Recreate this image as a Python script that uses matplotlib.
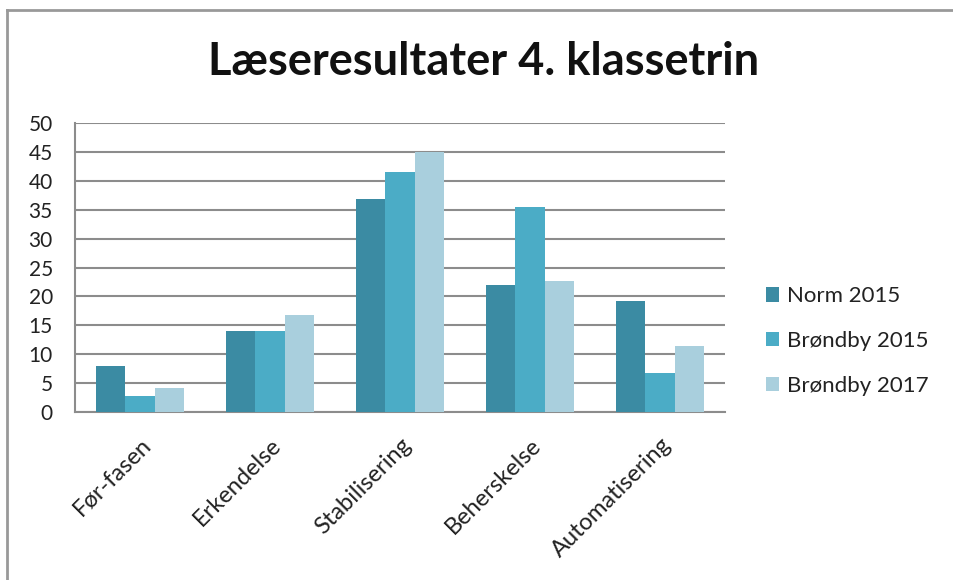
import matplotlib
matplotlib.use("Agg")
import matplotlib.pyplot as plt
import numpy as np
from matplotlib.lines import Line2D

categories = ["Før-fasen", "Erkendelse", "Stabilisering", "Beherskelse", "Automatisering"]
series_names = ["Norm 2015", "Brøndby 2015", "Brøndby 2017"]
norm_2015 = [8.0, 14.0, 36.9, 22.0, 19.2]
brondby_2015 = [2.8, 14.0, 41.5, 35.5, 6.7]
brondby_2017 = [4.2, 16.8, 45.0, 22.7, 11.5]
colors = ["#3B8BA3", "#4BACC6", "#A9CFDD"]
yticks = [0, 5, 10, 15, 20, 25, 30, 35, 40, 45, 50]

plt.rcParams['font.family'] = ['Lato', 'DejaVu Sans']

fig = plt.figure(figsize=(9.54, 5.8), dpi=100)
ax = fig.add_axes([75/954, 1-412/580, 650/954, 289/580])

x = np.arange(len(categories))
w = 0.226
for i, (vals, name) in enumerate(zip([norm_2015, brondby_2015, brondby_2017], series_names)):
    ax.bar(x + (i - 1) * w, vals, width=w, color=colors[i], label=name, zorder=3)

ax.set_xlim(-0.5, len(categories) - 0.5)
ax.set_ylim(0, 50)
ax.set_yticks(yticks)
ax.yaxis.grid(True, color="#8C8C8C", linewidth=1.5, zorder=0)
ax.set_axisbelow(True)
for s in ["top", "right"]:
    ax.spines[s].set_visible(False)
for s in ["left", "bottom"]:
    ax.spines[s].set_color("#8C8C8C")
    ax.spines[s].set_linewidth(1.5)
ax.tick_params(axis="y", length=0, pad=16, labelsize=15, labelcolor="#222222")
ax.tick_params(axis="x", length=0, pad=16, labelsize=17, labelcolor="#222222")
ax.set_xticks(x)
ax.set_xticklabels(categories, rotation=45, ha="right", rotation_mode="anchor")

fig.text(484/954, 1-62/580, "Læseresultater 4. klassetrin", ha="center", va="center",
         fontsize=32.5, fontweight="bold", color="#111111")

leg = ax.legend(loc="center left", bbox_to_anchor=(1.032, 0.245), frameon=False,
                fontsize=16, handlelength=0.6, handleheight=0.6, handletextpad=0.35,
                labelspacing=1.12)
for t in leg.get_texts():
    t.set_color("#222222")

fig.add_artist(Line2D([7/954, 7/954], [0, 1-10/580], transform=fig.transFigure, color="#999999", linewidth=2))
fig.add_artist(Line2D([7/954, 1], [1-10/580, 1-10/580], transform=fig.transFigure, color="#999999", linewidth=2))

fig.savefig("out.png", dpi=100)
